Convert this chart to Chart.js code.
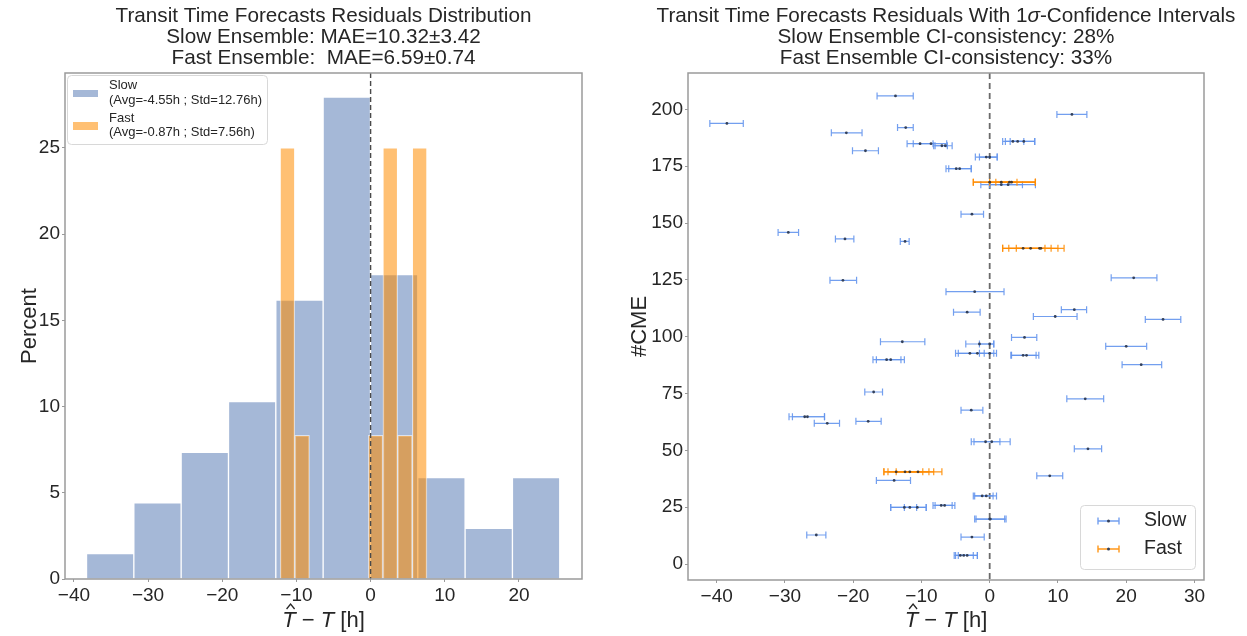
<!DOCTYPE html>
<html lang="en">
<head>
<meta charset="UTF-8">
<title>Transit Time Forecasts Residuals</title>
<script src="https://cdn.jsdelivr.net/npm/chart.js@4.4.0/dist/chart.umd.min.js"></script>
<style>
html,body{margin:0;background:#fff;width:1247px;height:636px;overflow:hidden}
canvas{position:absolute;top:0}
#histChart{left:0}
#ciChart{left:620px}
</style>
</head>
<body>
<canvas id="histChart" width="620" height="636"></canvas>
<canvas id="ciChart" width="627" height="636"></canvas>
<script>
/* ---------- left panel: residual histograms (percent per bin) ---------- */
const slowEdges=[-38.3,-31.92,-25.54,-19.16,-12.78,-6.4,-0.02,6.36,12.74,19.12,25.5];
const slowPct=[1.47,4.41,7.35,10.29,16.18,27.94,17.65,5.88,2.94,5.88];
const fastEdges=[-12.2,-10.22,-8.24,-6.26,-4.28,-2.3,-0.32,1.66,3.64,5.62,7.6];
const fastPct=[25,8.33,0,0,0,0,8.33,25,8.33,25];
const histXTicks=[-40,-30,-20,-10,0,10,20];
const histYTicks=[0,5,10,15,20,25];

/* ---------- right panel: residual + 1 sigma interval per CME ---------- */
const slowX =[-13.8,12.05,-38.5,-12.3,-21.0,-10.2,-8.6,-7.0,-6.5,3.4,4.1,5.0,-18.2,-0.5,0,-4.9,-4.4,1.7,2.7,-2.6,-29.5,-21.2,-12.4,21.1,-21.5,-2.2,12.4,-3.3,9.6,25.4,5.1,-12.8,-1.5,0,20.0,-2.9,-1.8,0,4.9,5.4,-15.1,-14.5,22.2,-17.0,14.0,-2.7,-27.1,-26.7,-17.8,-23.8,-0.6,0.3,14.4,8.8,-14.0,-1.1,-0.5,-12.5,-11.7,-10.6,-7.1,-6.6,0,0.1,-25.4,-2.6,-4.3,-3.8,-3.3];
const slowLo=[-16.5,9.85,-41.0,-13.5,-23.2,-12.1,-11.2,-8.2,-8.0,1.9,2.3,3.0,-20.1,-2.1,-1.5,-6.4,-6.0,-1.3,0,-4.2,-31.0,-22.6,-13.1,17.8,-23.4,-6.4,10.5,-5.3,6.4,22.8,3.2,-16.0,-3.5,-1.5,17.0,-5.0,-4.6,-1.5,3.1,3.2,-17.1,-16.6,19.4,-18.3,11.3,-4.2,-29.4,-28.9,-19.6,-25.7,-2.7,-2.3,12.4,6.9,-16.6,-2.4,-2.2,-14.5,-14.5,-12.5,-8.3,-8.0,-2.2,-2.0,-26.8,-4.2,-5.2,-5.0,-4.6];
const slowHi=[-11.2,14.24,-36.1,-11.2,-18.7,-8.3,-6.3,-6.2,-5.5,5.0,6.6,6.6,-16.3,1.1,1.1,-2.7,-2.7,6.7,4.8,-0.9,-28.0,-19.9,-11.8,24.5,-19.5,2.1,14.2,-1.4,12.8,28.0,6.9,-9.5,0.6,0.6,23.0,-0.8,0.6,1.0,6.8,7.2,-13.0,-12.5,25.2,-15.7,16.7,-1.0,-24.2,-24.2,-15.9,-22.0,1.5,3.0,16.4,10.7,-11.6,0.5,1.0,-10.7,-9.3,-9.3,-5.5,-5.1,2.4,2.2,-24.0,-0.8,-2.4,-1.8,-1.8];
const slowCME=[205.9,197.8,193.8,192.0,189.7,184.9,184.9,184.0,184.0,185.9,185.9,185.9,181.8,179.0,179.0,173.9,173.9,166.9,166.9,153.9,145.9,143.0,141.9,125.9,124.8,119.8,111.9,110.8,108.9,107.6,99.7,97.8,96.8,96.8,95.8,92.7,92.7,92.7,91.8,91.8,89.9,89.9,87.7,75.7,72.7,67.7,64.8,64.8,62.8,61.9,53.8,53.8,50.7,38.8,36.8,30.0,30.0,24.9,24.9,24.9,25.8,25.8,19.8,19.8,12.8,11.9,3.8,3.8,3.8];

const fastX =[0,1.7,2.9,3.2,4.9,6.0,7.3,7.5,-13.7,-12.4,-11.7,-10.5];
const fastLo=[-2.4,0,0.9,-2.4,1.9,2.8,3.9,1.9,-15.5,-14.9,-15.5,-13.7];
const fastHi=[4.0,6.7,6.7,6.7,8.1,9.0,10.9,10.0,-9.8,-8.9,-8.2,-7.0];
const fastCME=[168.0,168.0,168.0,168.0,138.9,138.9,138.9,138.9,40.6,40.6,40.6,40.6];

const ciXTicks=[-40,-30,-20,-10,0,10,20,30];
const ciYTicks=[0,25,50,75,100,125,150,175,200];

const FONT='"Liberation Sans", Arial, Helvetica, sans-serif';
const INK='#262626';
const SLOW_FILL='rgba(76,114,176,0.5)', FAST_FILL='rgba(255,140,0,0.55)';
const SLOW_LINE='rgba(100,149,237,0.9)', FAST_LINE='rgba(255,140,0,0.9)';
Chart.defaults.font.family=FONT;
Chart.defaults.color=INK;

const fmt=v=>v<0?'\u2212'+Math.abs(v):String(v);
const mids=e=>e.slice(0,-1).map((v,i)=>(v+e[i+1])/2);

/* draw a run of [text, italic] pieces centred on cx */
function drawSegs(ctx,segs,cx,cy,size){
  const fontOf=it=>(it?'italic ':'')+size+'px '+FONT;
  let total=0;
  segs.forEach(s=>{ctx.font=fontOf(s[1]);total+=ctx.measureText(s[0]).width;});
  let x=cx-total/2;
  ctx.textAlign='left';ctx.textBaseline='middle';
  segs.forEach(s=>{ctx.font=fontOf(s[1]);ctx.fillText(s[0],x,cy);x+=ctx.measureText(s[0]).width;});
}
function drawXTitle(ctx,cx,cy){
  const size=22;
  ctx.font='italic '+size+'px '+FONT;const wT=ctx.measureText('T').width;
  ctx.font=size+'px '+FONT;const wRest=ctx.measureText(' \u2212 ').width+ctx.measureText(' [h]').width;
  const x0=cx-(2*wT+wRest)/2;
  drawSegs(ctx,[['T',true],[' \u2212 ',false],['T',true],[' [h]',false]],cx,cy,size);
  // hat over first T
  const hx=x0+wT*0.62;
  ctx.beginPath();ctx.moveTo(hx-4,cy-12);ctx.lineTo(hx,cy-17);ctx.lineTo(hx+4,cy-12);
  ctx.lineWidth=1.3;ctx.strokeStyle=INK;ctx.stroke();
}
function drawYTitle(ctx,text,x,y){
  ctx.save();ctx.translate(x,y);ctx.rotate(-Math.PI/2);
  ctx.font='22px '+FONT;ctx.textAlign='center';ctx.textBaseline='middle';ctx.fillText(text,0,0);
  ctx.restore();
}
function frame(c){
  const a=c.chartArea,ctx=c.ctx;
  ctx.save();ctx.strokeStyle='#9a9a9a';ctx.lineWidth=1.5;
  ctx.strokeRect(a.left,a.top,a.right-a.left,a.bottom-a.top);ctx.restore();
}
function zeroLine(c,color,width,dash){
  const a=c.chartArea,ctx=c.ctx,x=c.scales.x.getPixelForValue(0);
  ctx.save();ctx.strokeStyle=color;ctx.lineWidth=width;ctx.setLineDash(dash);
  ctx.beginPath();ctx.moveTo(x,a.top);ctx.lineTo(x,a.bottom);ctx.stroke();ctx.restore();
}
function legendBox(ctx,x,y,w,h){
  ctx.save();ctx.fillStyle='rgba(255,255,255,0.85)';ctx.strokeStyle='#d8d8d8';ctx.lineWidth=1;
  ctx.beginPath();ctx.roundRect(x+0.5,y+0.5,w,h,4);ctx.fill();ctx.stroke();ctx.restore();
}

const axisCommon=(ticks,size)=>({
  type:'linear',offset:false,
  afterBuildTicks:s=>{s.ticks=ticks.map(v=>({value:v}));},
  ticks:{font:{size:size},color:INK,padding:2,callback:fmt,maxRotation:0,autoSkip:false},
  grid:{display:true,drawOnChartArea:false,drawTicks:true,tickLength:3,color:'#9a9a9a',offset:false},
  border:{display:false}
});

/* ---------- left chart ---------- */
const TITLE_SIZE=20.7;
const histDeco={
  id:'histDeco',
  afterDatasetsDraw(c){
    const ctx=c.ctx,a=c.chartArea,cx=(a.left+a.right)/2;
    zeroLine(c,'#4a4a4a',1.4,[5,3]);
    frame(c);
    ctx.fillStyle=INK;
    drawSegs(ctx,[['Transit Time Forecasts Residuals Distribution',false]],cx,16,TITLE_SIZE);
    drawSegs(ctx,[['Slow Ensemble: MAE=10.32\u00b13.42',false]],cx,37,TITLE_SIZE);
    drawSegs(ctx,[['Fast Ensemble:  MAE=6.59\u00b10.74',false]],cx,58,TITLE_SIZE);
    drawYTitle(ctx,'Percent',30,a.top+(a.bottom-a.top)/2);
    drawXTitle(ctx,cx,621);
    // legend
    legendBox(ctx,67,75,200,69);
    ctx.fillStyle=SLOW_FILL;ctx.fillRect(73,90,25,7);
    ctx.fillStyle=FAST_FILL;ctx.fillRect(73,122,25,8);
    ctx.fillStyle=INK;ctx.font='13px '+FONT;ctx.textAlign='left';ctx.textBaseline='middle';
    ctx.fillText('Slow',109,85);
    ctx.fillText('(Avg=-4.55h ; Std=12.76h)',109,100);
    ctx.fillText('Fast',109,118);
    ctx.fillText('(Avg=-0.87h ; Std=7.56h)',109,132);
  }
};

new Chart(document.getElementById('histChart'),{
  type:'bar',
  data:{datasets:[
    {label:'Slow',xAxisID:'x',order:2,data:mids(slowEdges).map((m,i)=>({x:m,y:slowPct[i]})),
     backgroundColor:SLOW_FILL,borderColor:'rgba(255,255,255,0.75)',borderWidth:1,
     barPercentage:1,categoryPercentage:1,grouped:false},
    {label:'Fast',xAxisID:'x2',order:1,data:mids(fastEdges).map((m,i)=>({x:m,y:fastPct[i]})),
     backgroundColor:FAST_FILL,borderColor:'rgba(255,255,255,0.6)',borderWidth:1,
     barPercentage:1,categoryPercentage:1,grouped:false}
  ]},
  options:{
    responsive:false,animation:false,devicePixelRatio:1,
    layout:{padding:{top:73,right:38,left:0,bottom:0}},
    plugins:{legend:{display:false},title:{display:false},tooltip:{enabled:false}},
    scales:{
      x:Object.assign(axisCommon(histXTicks,19),{min:-41.2,max:28.5,afterFit:s=>{s.height=57;}}),
      x2:{type:'linear',offset:false,display:false,min:-41.2,max:28.5,ticks:{stepSize:10}},
      y:Object.assign(axisCommon(histYTicks,19),{min:0,max:29.34,afterFit:s=>{s.width=65;}})
    }
  },
  plugins:[histDeco]
});

/* ---------- right chart ---------- */
const ciDeco={
  id:'ciDeco',
  beforeDatasetsDraw(c){
    const ctx=c.ctx,xs=c.scales.x,ys=c.scales.y;
    zeroLine(c,'#6a6a6a',1.8,[6,4]);
    c.data.datasets.forEach(ds=>{
      ctx.save();ctx.strokeStyle=ds.barColor;ctx.lineWidth=1.2;
      ds.lo.forEach((lo,i)=>{
        const y=ys.getPixelForValue(ds.data[i].y),x1=xs.getPixelForValue(lo),x2=xs.getPixelForValue(ds.hi[i]);
        ctx.beginPath();
        ctx.moveTo(x1,y);ctx.lineTo(x2,y);
        ctx.moveTo(x1,y-3.5);ctx.lineTo(x1,y+3.5);
        ctx.moveTo(x2,y-3.5);ctx.lineTo(x2,y+3.5);
        ctx.stroke();
      });
      ctx.restore();
    });
  },
  afterDatasetsDraw(c){
    const ctx=c.ctx,a=c.chartArea,cx=(a.left+a.right)/2;
    frame(c);
    ctx.fillStyle=INK;
    drawSegs(ctx,[['Transit Time Forecasts Residuals With 1',false],['\u03c3',true],['-Confidence Intervals',false]],cx,16,TITLE_SIZE);
    drawSegs(ctx,[['Slow Ensemble CI-consistency: 28%',false]],cx,37,TITLE_SIZE);
    drawSegs(ctx,[['Fast Ensemble CI-consistency: 33%',false]],cx,58,TITLE_SIZE);
    drawYTitle(ctx,'#CME',20,a.top+(a.bottom-a.top)/2);
    drawXTitle(ctx,cx,621);
    // legend (canvas starts at x=620 on the page)
    const lx=1080-620;
    legendBox(ctx,lx,505,115,64);
    [[521,SLOW_LINE,'Slow'],[549,FAST_LINE,'Fast']].forEach(r=>{
      const y=r[0],x1=lx+18,x2=lx+39;
      ctx.save();ctx.strokeStyle=r[1];ctx.lineWidth=1.4;ctx.beginPath();
      ctx.moveTo(x1,y);ctx.lineTo(x2,y);ctx.moveTo(x1,y-3.5);ctx.lineTo(x1,y+3.5);ctx.moveTo(x2,y-3.5);ctx.lineTo(x2,y+3.5);
      ctx.stroke();ctx.fillStyle='#33405a';ctx.beginPath();ctx.arc((x1+x2)/2,y,1.5,0,Math.PI*2);ctx.fill();ctx.restore();
      ctx.fillStyle=INK;ctx.font='19.5px '+FONT;ctx.textAlign='left';ctx.textBaseline='middle';
      ctx.fillText(r[2],lx+64,y);
    });
  }
};

new Chart(document.getElementById('ciChart'),{
  type:'scatter',
  data:{datasets:[
    {label:'Slow',data:slowX.map((v,i)=>({x:v,y:slowCME[i]})),lo:slowLo,hi:slowHi,barColor:SLOW_LINE,
     pointRadius:1.4,pointBackgroundColor:'#33405a',pointBorderWidth:0},
    {label:'Fast',data:fastX.map((v,i)=>({x:v,y:fastCME[i]})),lo:fastLo,hi:fastHi,barColor:FAST_LINE,
     pointRadius:1.4,pointBackgroundColor:'#4a3a2a',pointBorderWidth:0}
  ]},
  options:{
    responsive:false,animation:false,devicePixelRatio:1,
    layout:{padding:{top:73,right:43,left:0,bottom:0}},
    plugins:{legend:{display:false},title:{display:false},tooltip:{enabled:false}},
    scales:{
      x:Object.assign(axisCommon(ciXTicks,19),{min:-44.2,max:31.4,afterFit:s=>{s.height=56;}}),
      y:Object.assign(axisCommon(ciYTicks,19),{min:-7,max:216,afterFit:s=>{s.width=68;}})
    }
  },
  plugins:[ciDeco]
});
</script>
</body>
</html>
